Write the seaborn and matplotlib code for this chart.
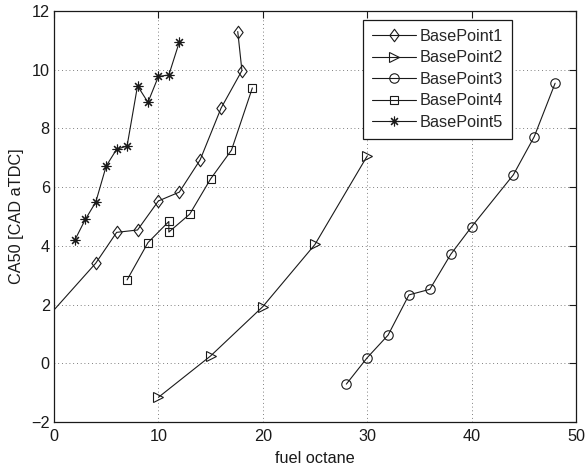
import matplotlib
matplotlib.use("Agg")
import matplotlib.pyplot as plt
from matplotlib.path import Path
import numpy as np
import pandas as pd
import seaborn as sns

# CA50 combustion phasing versus fuel octane for five base operating points
bp1_x = [-2, 4, 6, 8, 10, 12, 14, 16, 18, 17.6]
bp1_y = [1.02, 3.41, 4.46, 4.54, 5.53, 5.83, 6.93, 8.69, 9.97, 11.3]

bp2_x = [10, 15, 20, 25, 30]
bp2_y = [-1.16, 0.25, 1.93, 4.05, 7.06]

bp3_x = [28, 30, 32, 34, 36, 38, 40, 44, 46, 48]
bp3_y = [-0.71, 0.19, 0.96, 2.33, 2.52, 3.71, 4.65, 6.42, 7.72, 9.54]

bp4_x = [7, 9, 11, 11, 13, 15, 17, 19]
bp4_y = [2.84, 4.11, 4.83, 4.47, 5.08, 6.28, 7.26, 9.38]

bp5_x = [2, 3, 4, 5, 6, 7, 8, 9, 10, 11, 12]
bp5_y = [4.2, 4.9, 5.49, 6.72, 7.29, 7.4, 9.45, 8.89, 9.77, 9.82, 10.94]

series_names = ["BasePoint1", "BasePoint2", "BasePoint3", "BasePoint4", "BasePoint5"]
x_ticks = [0, 10, 20, 30, 40, 50]
y_ticks = [-2, 0, 2, 4, 6, 8, 10, 12]

sns.set_theme(style="white")
plt.rcParams["font.family"] = ["Liberation Sans", "DejaVu Sans"]
plt.rcParams["axes.unicode_minus"] = True

FS = 11.7

diamond = Path([(0, 1), (0.74, 0), (0, -1), (-0.74, 0), (0, 1)],
               [Path.MOVETO, Path.LINETO, Path.LINETO, Path.LINETO, Path.CLOSEPOLY])
markers = [diamond, ">", "o", "s", (8, 2, 0)]
msizes = [9, 7.5, 6.8, 6, 7]

fig = plt.figure(figsize=(5.85, 4.69), dpi=100)
ax = fig.add_axes([54 / 585, 1 - 422 / 469, 522 / 585, 411 / 469])

data = [(bp1_x, bp1_y), (bp2_x, bp2_y), (bp3_x, bp3_y), (bp4_x, bp4_y), (bp5_x, bp5_y)]
for name, (xs, ys), mk, ms in zip(series_names, data, markers, msizes):
    df = pd.DataFrame({"octane": xs, "ca50": ys})
    sns.lineplot(data=df, x="octane", y="ca50", ax=ax, sort=False, estimator=None,
                 errorbar=None, color="k", linewidth=0.8, marker=mk, markersize=ms,
                 markerfacecolor="none", markeredgecolor="k", markeredgewidth=0.8,
                 label=name, legend=False)

ax.set_xlim(0, 50)
ax.set_ylim(-2, 12)
ax.set_xticks(x_ticks)
ax.set_yticks(y_ticks)
ax.grid(True, color="#555555", linestyle=(0, (1, 3.5)), linewidth=0.6)
for s in ax.spines.values():
    s.set_visible(True)
    s.set_color("k")
    s.set_linewidth(0.9)
ax.tick_params(direction="in", length=5, width=0.8, color="k", top=True, right=True,
               labelsize=FS, labelcolor="k")
ax.tick_params(axis="x", pad=5)
ax.tick_params(axis="y", pad=3)
ax.set_xlabel("fuel octane", fontsize=FS, color="k", labelpad=5)
ax.set_ylabel("CA50 [CAD aTDC]", fontsize=FS, color="k", labelpad=5)

leg = ax.legend(loc="upper right", bbox_to_anchor=(0.877, 0.978), borderaxespad=0,
                fontsize=FS, frameon=True, fancybox=False, framealpha=1,
                edgecolor="k", handlelength=2.75, handletextpad=0.2,
                borderpad=0.55, labelspacing=0.4)
leg.get_frame().set_linewidth(0.9)

fig.savefig("out.png", dpi=100)
